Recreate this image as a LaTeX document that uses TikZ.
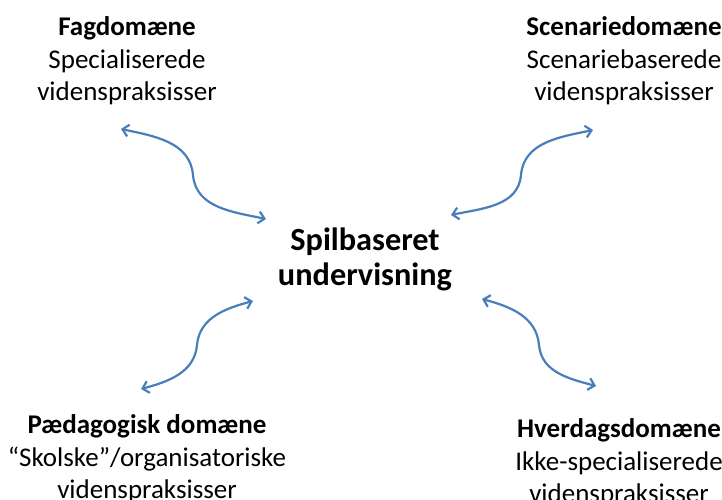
\documentclass[tikz,border=0pt]{standalone}
\usepackage{fontspec}
\setmainfont{Carlito}
\usetikzlibrary{arrows.meta}
\definecolor{arrowblue}{HTML}{4A7EBB}
\tikzset{
  domtext/.style={align=center, font=\fontsize{27}{32.5}\selectfont, inner sep=0pt},
  centretext/.style={align=center, font=\fontsize{32.3}{35}\selectfont\bfseries, inner sep=0pt},
  link/.style={draw=arrowblue, line width=2.2pt, {Straight Barb[length=6pt,width=12pt]}-{Straight Barb[length=6pt,width=12pt]}}
}
\begin{document}
\begin{tikzpicture}[x=1pt,y=1pt]
\useasboundingbox (0,0) rectangle (722,499);
\node[domtext] (fag) at (127,438) {\textbf{Fagdomæne}\\Specialiserede\\videnspraksisser};
\node[domtext] (scen) at (624,438) {\textbf{Scenariedomæne}\\Scenariebaserede\\videnspraksisser};
\node[domtext] (paed) at (147,40) {\textbf{Pædagogisk domæne}\\“Skolske”/organisatoriske\\videnspraksisser};
\node[domtext] (hver) at (619,36) {\textbf{Hverdagsdomæne}\\Ikke-specialiserede\\videnspraksisser};
\node[centretext] (spil) at (365,240) {Spilbaseret\\undervisning};
% arrow end points
\coordinate (tla) at (121,370); \coordinate (tlm) at (193,324); \coordinate (tlb) at (266,280);
\coordinate (tra) at (451,284); \coordinate (trm) at (521,324); \coordinate (trb) at (593,369);
\coordinate (bla) at (141,110); \coordinate (blm) at (197,154); \coordinate (blb) at (253,198);
\coordinate (bra) at (482,200); \coordinate (brm) at (539,154); \coordinate (brb) at (596,113);
\draw[link] (tla) to[out=-12,in=95] (tlm) to[out=-85,in=168] (tlb);
\draw[link] (tra) to[out=12,in=-95] (trm) to[out=85,in=192] (trb);
\draw[link] (bla) to[out=15,in=-95] (blm) to[out=85,in=195] (blb);
\draw[link] (bra) to[out=-15,in=95] (brm) to[out=-85,in=165] (brb);
\end{tikzpicture}
\end{document}
